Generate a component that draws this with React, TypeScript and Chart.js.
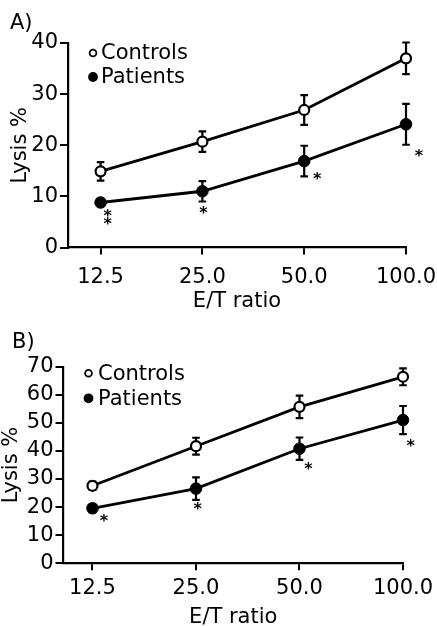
import React, { useEffect, useRef } from 'react';
import { Chart, registerables } from 'chart.js';

Chart.register(...registerables);

// ---------------- data ----------------
const ratioLabels = ['12.5', '25.0', '50.0', '100.0'];
const seriesNames = ['Controls', 'Patients'];
const xTitle = 'E/T ratio';
const yTitle = 'Lysis %';

const panelATicks = [0, 10, 20, 30, 40];
const panelAControls = [14.9, 20.7, 26.9, 37.0];
const panelAControlsErr = [1.8, 2.0, 2.9, 3.1];
const panelAPatients = [8.8, 11.0, 16.9, 24.1];
const panelAPatientsErr = [0.7, 2.0, 3.0, 4.0];
const panelAMarks = ['**', '*', '*', '*'];

const panelBTicks = [0, 10, 20, 30, 40, 50, 60, 70];
const panelBControls = [27.6, 41.7, 55.7, 66.4];
const panelBControlsErr = [1.5, 3.0, 4.0, 3.0];
const panelBPatients = [19.6, 26.6, 40.8, 51.0];
const panelBPatientsErr = [1.5, 4.0, 4.0, 5.0];
const panelBMarks = ['*', '*', '*', '*'];

// ---------------- style / layout ----------------
const FONT = "'DejaVu Sans', 'Liberation Sans', sans-serif";
const FS = 21;
const INK = '#000';

const layoutA = {
  top: 0, height: 318, padLeft: 10, padRight: 31,
  titleTop: 11, titleBottom: 6.8,
  yWidth: 58, yTitlePad: -2,
  xHeight: 70.5, xTickPad: 10, xTitlePad: 3.5,
  xMin: -0.32,
  legend: { dx: 25, dy: 10, gap: 24, textDx: 33 },
  markOffsets: [[7, 7], [1, 8.5], [13, 0], [13, 9]],
};

const layoutB = {
  top: 318, height: 308, padLeft: 12, padRight: 34,
  titleTop: 11.5, titleBottom: 12,
  yWidth: 51.5, yTitlePad: -13,
  xHeight: 62.7, xTickPad: 5.5, xTitlePad: -4,
  xMin: -0.28,
  legend: { dx: 25, dy: 6.6, gap: 25, textDx: 34.5 },
  markOffsets: [[11.5, 6], [1.7, 7], [9, 6], [7.7, 9]],
};

// ---------------- plugins ----------------
const errorBars = {
  id: 'errorBars',
  beforeDatasetsDraw(chart: any) {
    const { ctx } = chart;
    const ys = chart.scales.y;
    chart.data.datasets.forEach((ds: any, i: number) => {
      const meta = chart.getDatasetMeta(i);
      ctx.save();
      ctx.strokeStyle = INK;
      ctx.lineWidth = 2.2;
      meta.data.forEach((el: any, j: number) => {
        const v = ds.data[j].y;
        const e = ds.errors[j];
        const t = ys.getPixelForValue(v + e);
        const b = ys.getPixelForValue(v - e);
        ctx.beginPath();
        ctx.moveTo(el.x, t); ctx.lineTo(el.x, b);
        ctx.moveTo(el.x - 3.8, t); ctx.lineTo(el.x + 3.8, t);
        ctx.moveTo(el.x - 3.8, b); ctx.lineTo(el.x + 3.8, b);
        ctx.stroke();
      });
      ctx.restore();
    });
  },
};

const sigMarks = {
  id: 'sigMarks',
  afterDatasetsDraw(chart: any, _args: any, opts: any) {
    const { ctx } = chart;
    const ys = chart.scales.y;
    const ds = chart.data.datasets[opts.datasetIndex];
    const meta = chart.getDatasetMeta(opts.datasetIndex);
    ctx.save();
    ctx.fillStyle = INK;
    ctx.font = `bold 16px ${FONT}`;
    ctx.textAlign = 'center';
    ctx.textBaseline = 'middle';
    meta.data.forEach((el: any, j: number) => {
      const mark: string = opts.marks[j];
      const low = ys.getPixelForValue(ds.data[j].y - ds.errors[j]);
      const [dx, dy] = opts.offsets[j];
      for (let k = 0; k < mark.length; k++) {
        ctx.fillText(mark[k], el.x + dx, low + dy + 3.5 + k * 8);
      }
    });
    ctx.restore();
  },
};

const insetLegend = {
  id: 'insetLegend',
  afterDraw(chart: any, _args: any, opts: any) {
    const { ctx, chartArea } = chart;
    ctx.save();
    chart.data.datasets.forEach((ds: any, i: number) => {
      const cx = chartArea.left + opts.dx;
      const cy = chartArea.top + opts.dy + i * opts.gap;
      ctx.beginPath();
      ctx.arc(cx, cy, i === 0 ? 3.4 : 4, 0, Math.PI * 2);
      ctx.fillStyle = ds.pointBackgroundColor;
      ctx.fill();
      ctx.lineWidth = 1.8;
      ctx.strokeStyle = INK;
      ctx.stroke();
      ctx.fillStyle = INK;
      ctx.font = `${FS}px ${FONT}`;
      ctx.textAlign = 'left';
      ctx.textBaseline = 'middle';
      ctx.fillText(ds.label, chartArea.left + opts.textDx, cy + 1);
    });
    ctx.restore();
  },
};

// ---------------- component ----------------
function Panel(props: any) {
  const { cfg, label, controls, controlsErr, patients, patientsErr, marks, yTicks } = props;
  const ref = useRef<HTMLCanvasElement>(null);

  useEffect(() => {
    const yMax = yTicks[yTicks.length - 1];
    const chart = new Chart(ref.current as HTMLCanvasElement, {
      type: 'line',
      data: {
        datasets: [
          {
            label: seriesNames[0],
            data: controls.map((v: number, i: number) => ({ x: i, y: v })),
            errors: controlsErr,
            borderColor: INK,
            borderWidth: 2.8,
            pointRadius: 5,
            pointBorderWidth: 2.2,
            pointBackgroundColor: '#fff',
            pointBorderColor: INK,
            tension: 0,
            clip: false,
          } as any,
          {
            label: seriesNames[1],
            data: patients.map((v: number, i: number) => ({ x: i, y: v })),
            errors: patientsErr,
            borderColor: INK,
            borderWidth: 2.8,
            pointRadius: 5.8,
            pointBorderWidth: 1,
            pointBackgroundColor: INK,
            pointBorderColor: INK,
            tension: 0,
            clip: false,
          } as any,
        ],
      },
      options: {
        responsive: false,
        animation: false,
        events: [],
        layout: { padding: { left: cfg.padLeft, right: cfg.padRight, top: 0, bottom: 0 } },
        plugins: {
          legend: { display: false },
          tooltip: { enabled: false },
          title: {
            display: true,
            text: label,
            align: 'start',
            color: INK,
            font: { family: FONT, size: FS, weight: 'normal' },
            padding: { top: cfg.titleTop, bottom: cfg.titleBottom },
          },
          sigMarks: { datasetIndex: 1, marks, offsets: cfg.markOffsets },
          insetLegend: cfg.legend,
        } as any,
        scales: {
          x: {
            type: 'linear',
            min: cfg.xMin,
            max: ratioLabels.length - 1,
            afterBuildTicks: (s: any) => {
              s.ticks = ratioLabels.map((_, i) => ({ value: i }));
            },
            afterFit: (s: any) => {
              s.height = cfg.xHeight;
              s.paddingLeft = 0;
              s.paddingRight = 0;
            },
            ticks: {
              callback: (v: any) => ratioLabels[v] ?? '',
              color: INK,
              font: { family: FONT, size: FS },
              padding: cfg.xTickPad,
              maxRotation: 0,
              autoSkip: false,
            },
            grid: { display: true, drawOnChartArea: false, drawTicks: true, tickLength: 7, color: INK, lineWidth: 2 },
            border: { display: true, color: INK, width: 2.2 },
            title: {
              display: true,
              text: xTitle,
              color: INK,
              font: { family: FONT, size: FS },
              padding: { top: 0, bottom: cfg.xTitlePad },
            },
          },
          y: {
            type: 'linear',
            min: 0,
            max: yMax,
            afterBuildTicks: (s: any) => {
              s.ticks = yTicks.map((v: number) => ({ value: v }));
            },
            afterFit: (s: any) => {
              s.width = cfg.yWidth;
              s.paddingTop = 0;
              s.paddingBottom = 0;
            },
            ticks: {
              color: INK,
              font: { family: FONT, size: FS },
              padding: 2,
              autoSkip: false,
            },
            grid: { display: true, drawOnChartArea: false, drawTicks: true, tickLength: 8, color: INK, lineWidth: 2 },
            border: { display: true, color: INK, width: 2.2 },
            title: {
              display: true,
              text: yTitle,
              color: INK,
              font: { family: FONT, size: FS },
              padding: { top: cfg.yTitlePad, bottom: 0 },
            },
          },
        },
      } as any,
      plugins: [errorBars, sigMarks, insetLegend],
    });
    return () => chart.destroy();
  }, []);

  return (
    <canvas
      ref={ref}
      width={437}
      height={cfg.height}
      style={{ position: 'absolute', left: 0, top: cfg.top, display: 'block' }}
    />
  );
}

export default function App() {
  return (
    <div style={{ position: 'fixed', left: 0, top: 0, width: 437, height: 626, background: '#fff', overflow: 'hidden' }}>
      <Panel
        cfg={layoutA}
        label="A)"
        controls={panelAControls}
        controlsErr={panelAControlsErr}
        patients={panelAPatients}
        patientsErr={panelAPatientsErr}
        marks={panelAMarks}
        yTicks={panelATicks}
      />
      <Panel
        cfg={layoutB}
        label="B)"
        controls={panelBControls}
        controlsErr={panelBControlsErr}
        patients={panelBPatients}
        patientsErr={panelBPatientsErr}
        marks={panelBMarks}
        yTicks={panelBTicks}
      />
    </div>
  );
}
